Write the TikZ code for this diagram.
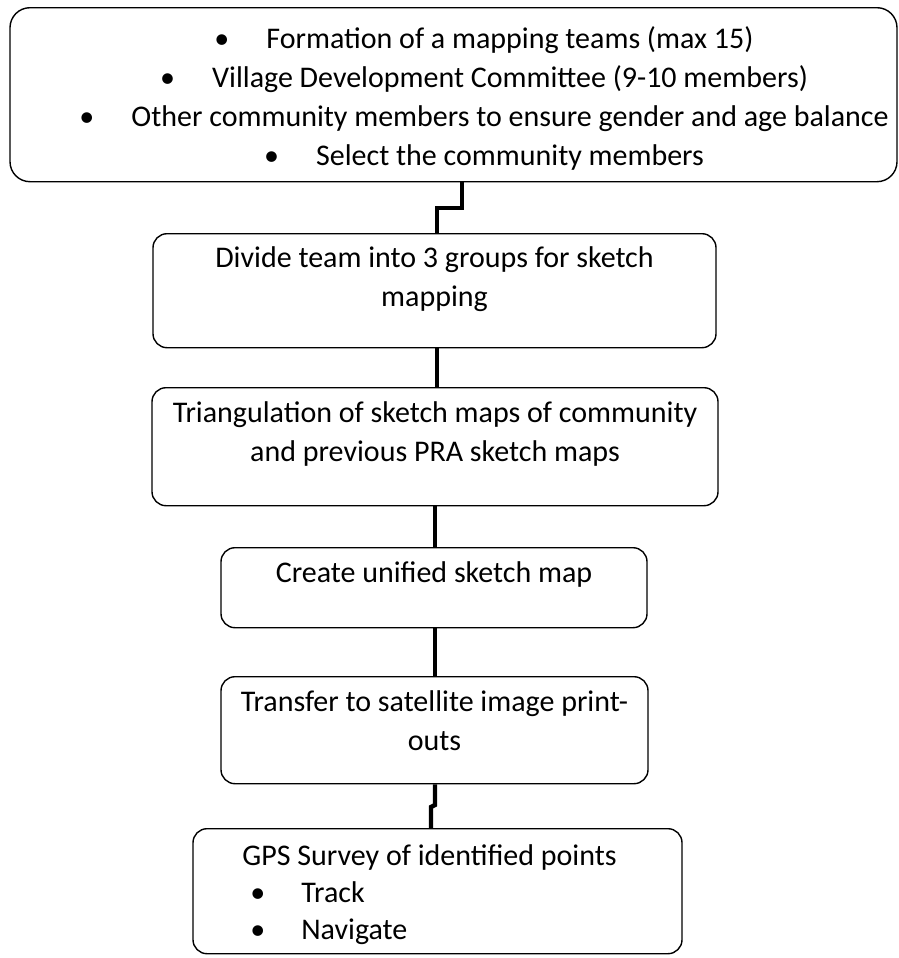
\documentclass[tikz,border=0pt]{standalone}
\usepackage{fontspec}
\setmainfont{Carlito}
\usetikzlibrary{positioning}

\begin{document}
\begin{tikzpicture}[x=0.5pt, y=-0.5pt,
  box/.style={draw, line width=0.7pt, rounded corners=7pt, align=center, anchor=north,
    inner xsep=0pt, inner ysep=0pt, font=\fontsize{15}{19.5}\selectfont},
  link/.style={line width=2.2pt}]
  \useasboundingbox (0,0) rectangle (899,958);
  % Top box: teams
  \node[box, rounded corners=10pt, minimum width=443.5pt, text height=79pt, text depth=8pt] (team) at (453.5,7)
    {\hspace*{30.5pt}\makebox[26pt][l]{\textbullet}Formation of a mapping teams (max 15)\\
     \hspace*{30.5pt}\makebox[26pt][l]{\textbullet}Village Development Committee (9-10 members)\\
     \hspace*{30.5pt}\makebox[26pt][l]{\textbullet}Other community members to ensure gender and age balance\\
     \hspace*{30.5pt}\makebox[26pt][l]{\textbullet}Select the community members};
  % Steps
  \node[box, minimum width=281.5pt, text height=36.5pt, text depth=20.5pt] (divide) at (434.5,233)
    {Divide team into 3 groups for sketch\\mapping};
  \node[box, minimum width=283pt, text height=37pt, text depth=22pt] (triang) at (435,387)
    {Triangulation of sketch maps of community\\and previous PRA sketch maps};
  \node[box, minimum width=213pt, text height=17.5pt, text depth=22.5pt] (unify) at (434,547)
    {Create unified sketch map};
  \node[box, minimum width=213.5pt, text height=37pt, text depth=16.5pt] (transfer) at (434.5,676)
    {Transfer to satellite image print-\\outs};
  \node[box, align=left, font=\fontsize{15}{18.5}\selectfont, minimum width=244.5pt,
    text height=55.5pt, text depth=7pt] (gps) at (437.5,828)
    {GPS Survey of identified points\rule{8pt}{0pt}\\
     \hspace*{4pt}\makebox[25.5pt][l]{\textbullet}Track\\
     \hspace*{4pt}\makebox[25.5pt][l]{\textbullet}Navigate};
  % Connectors
  \coordinate (bendA) at (462,208);
  \coordinate (bendB) at (437,208);
  \coordinate (kinkA) at (435,805);
  \coordinate (kinkB) at (431,807);
  \draw[link] (team.south -| bendA) -- (bendA) -- (bendB) -- (divide.north -| bendB);
  \draw[link] (divide.south -| bendB) -- (triang.north -| bendB);
  \draw[link] (triang.south -| kinkA) -- (unify.north -| kinkA);
  \draw[link] (unify.south -| kinkA) -- (transfer.north -| kinkA);
  \draw[link] (transfer.south -| kinkA) -- (kinkA) -- (kinkB) -- (gps.north -| kinkB);
\end{tikzpicture}
\end{document}
